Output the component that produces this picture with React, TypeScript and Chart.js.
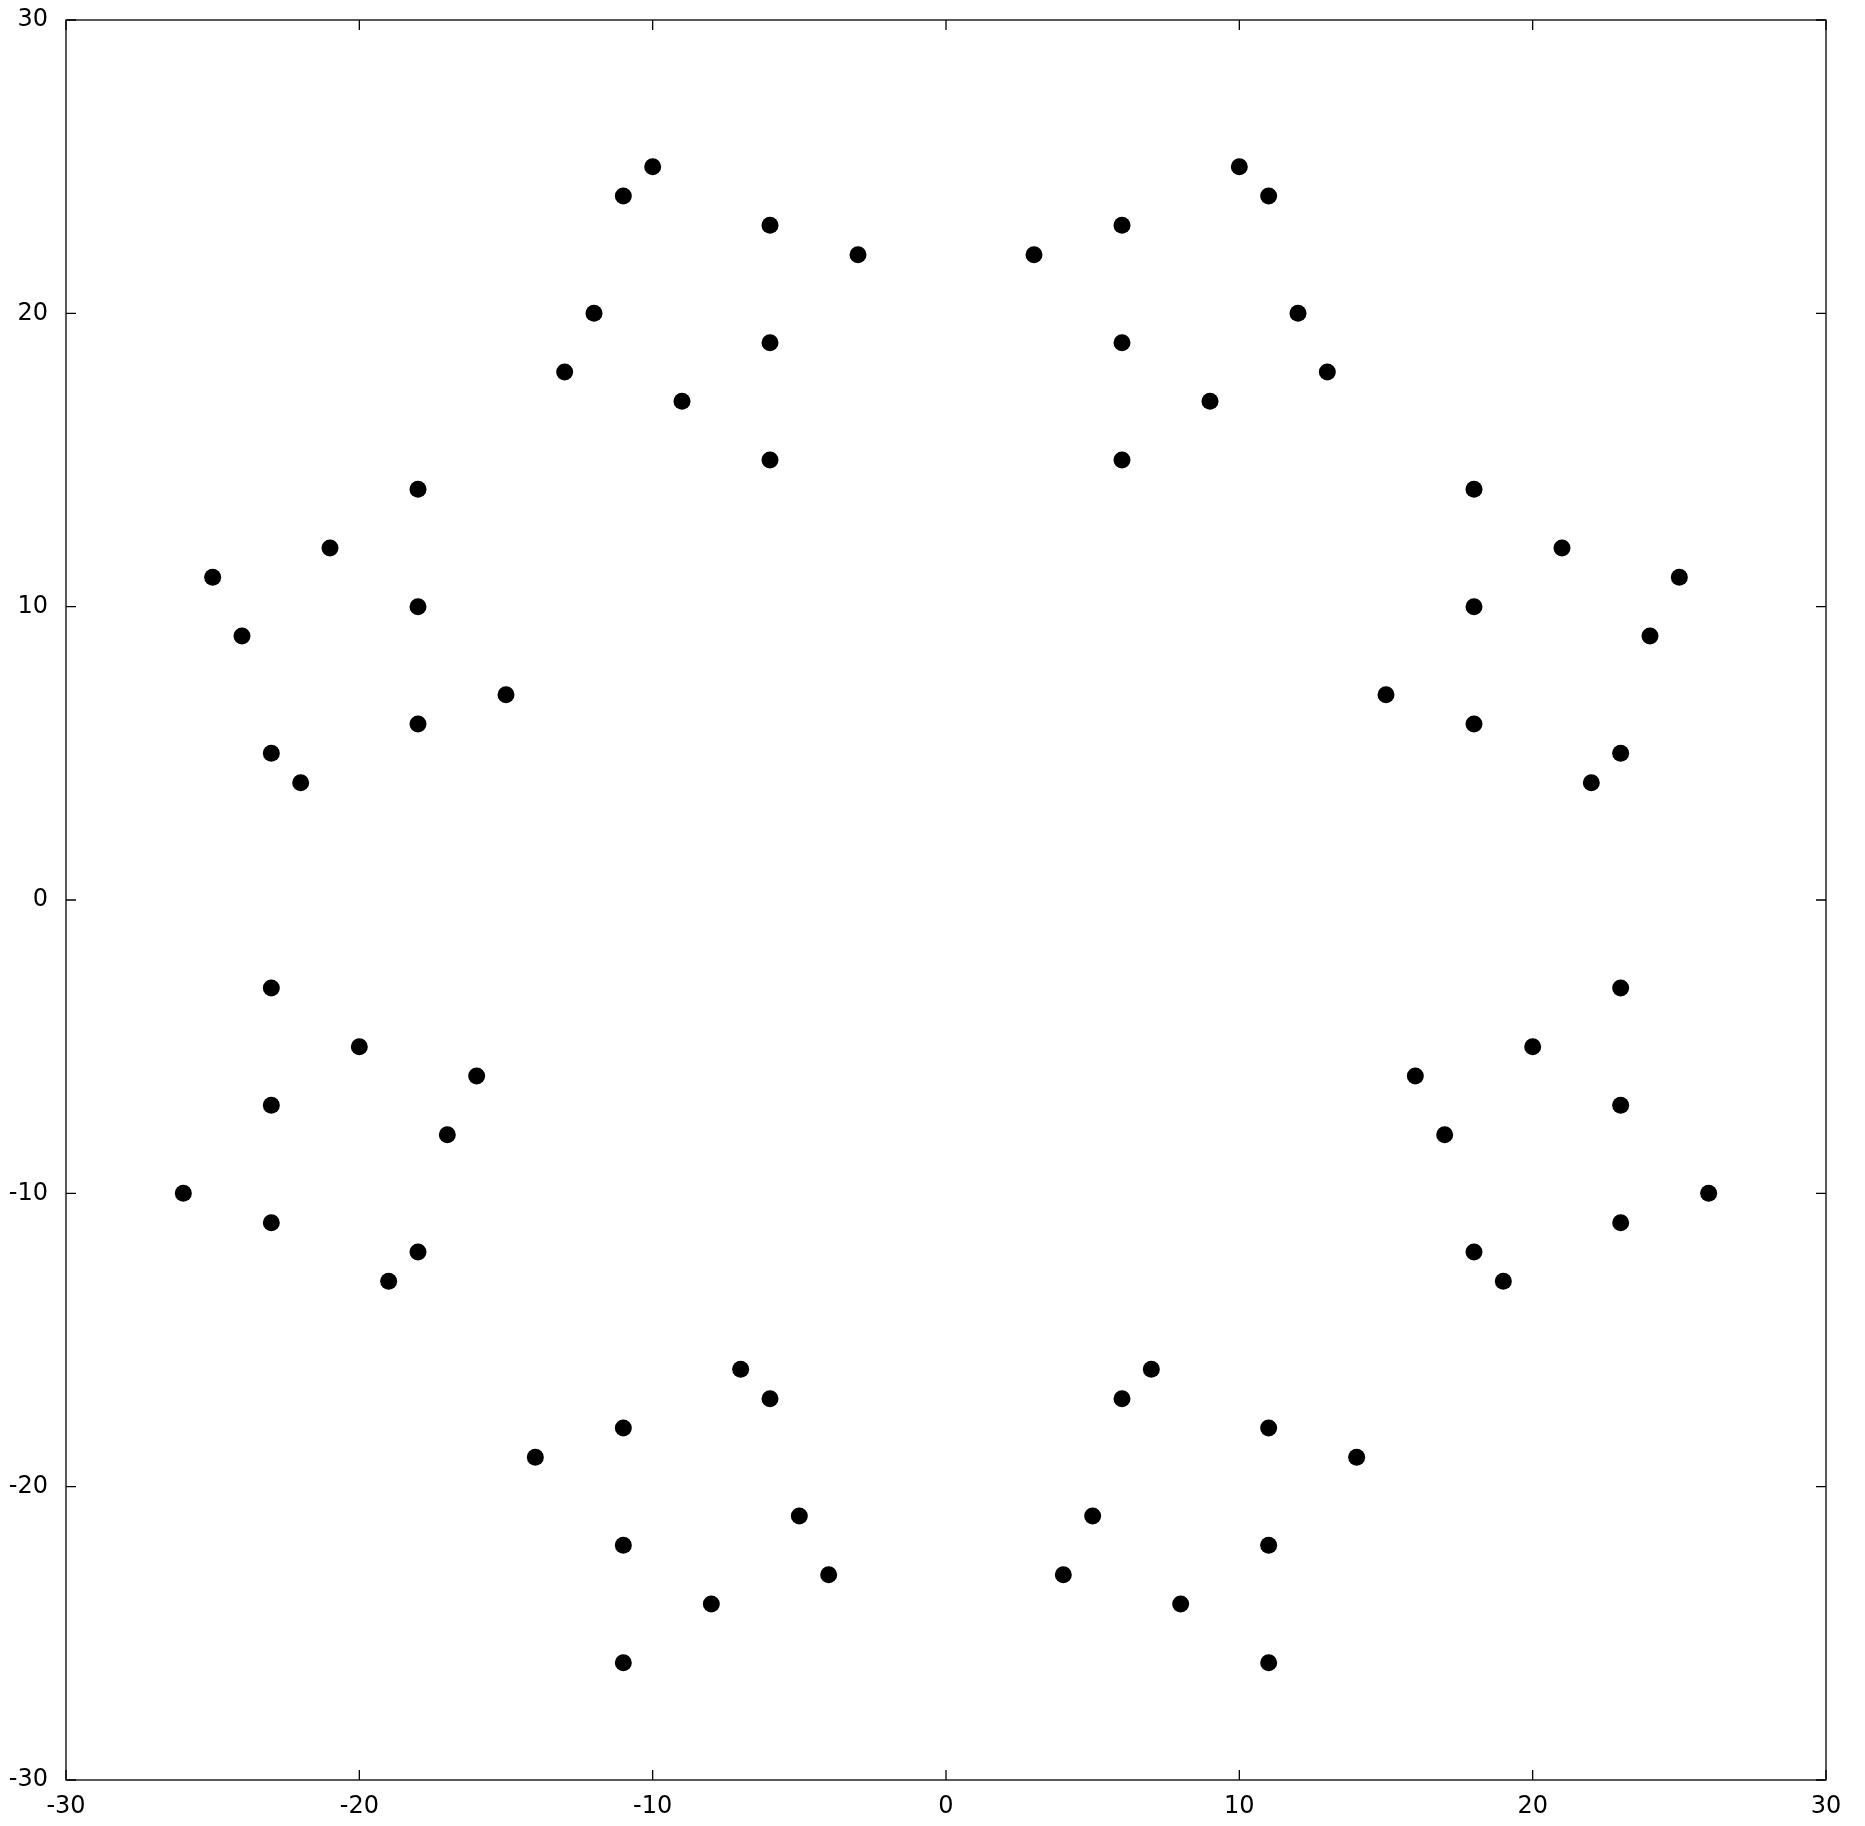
import React, { useEffect, useRef } from "react";
import { Chart, registerables } from "chart.js";

Chart.register(...registerables);

const xValues: number[] = [
  -10, -11, -6, -3, -12, -6, -13, -9, -6,
  3, 6, 10, 11, 12, 6, 13, 9, 6,
  -18, -21, -25, -18, -24, -15, -18, -23, -22,
  18, 21, 25, 18, 24, 15, 18, 23, 22,
  -23, -20, -16, -23, -17, -26, -23, -18, -19,
  23, 20, 16, 23, 17, 26, 23, 18, 19,
  -7, -6, -11, -14, -5, -11, -4, -8, -11,
  7, 6, 11, 14, 5, 11, 4, 8, 11,
];

const yValues: number[] = [
  25, 24, 23, 22, 20, 19, 18, 17, 15,
  22, 23, 25, 24, 20, 19, 18, 17, 15,
  14, 12, 11, 10, 9, 7, 6, 5, 4,
  14, 12, 11, 10, 9, 7, 6, 5, 4,
  -3, -5, -6, -7, -8, -10, -11, -12, -13,
  -3, -5, -6, -7, -8, -10, -11, -12, -13,
  -16, -17, -18, -19, -21, -22, -23, -24, -26,
  -16, -17, -18, -19, -21, -22, -23, -24, -26,
];

const axisMin = -30;
const axisMax = 30;
const tickStep = 10;

const framePlugin = {
  id: "frameTicks",
  afterDraw(chart: any) {
    const { ctx, chartArea, scales } = chart;
    const { left, right, top, bottom } = chartArea;
    ctx.save();
    ctx.strokeStyle = "#000";
    ctx.lineWidth = 1.3;
    ctx.strokeRect(left, top, right - left, bottom - top);
    const len = 10;
    ctx.beginPath();
    scales.x.ticks.forEach((t: any) => {
      const px = scales.x.getPixelForValue(t.value);
      ctx.moveTo(px, bottom);
      ctx.lineTo(px, bottom - len);
      ctx.moveTo(px, top);
      ctx.lineTo(px, top + len);
    });
    scales.y.ticks.forEach((t: any) => {
      const py = scales.y.getPixelForValue(t.value);
      ctx.moveTo(left, py);
      ctx.lineTo(left + len, py);
      ctx.moveTo(right, py);
      ctx.lineTo(right - len, py);
    });
    ctx.stroke();
    ctx.restore();
  },
};

export default function App() {
  const ref = useRef<HTMLCanvasElement | null>(null);
  useEffect(() => {
    if (!ref.current) return;
    const points = xValues.map((x, i) => ({ x, y: yValues[i] }));
    const font = { family: "'DejaVu Sans', sans-serif", size: 24 };
    const chart = new Chart(ref.current, {
      type: "scatter",
      data: {
        datasets: [
          {
            data: points,
            backgroundColor: "#000",
            borderWidth: 0,
            pointRadius: 8.5,
            pointHoverRadius: 8.5,
          },
        ],
      },
      options: {
        animation: false,
        responsive: false,
        devicePixelRatio: 1,
        layout: { padding: { top: 20, right: 39, left: 0, bottom: 0 } },
        plugins: { legend: { display: false }, tooltip: { enabled: false } },
        scales: {
          x: {
            type: "linear",
            min: axisMin,
            max: axisMax,
            grid: { display: false, drawTicks: false },
            border: { display: false },
            ticks: { stepSize: tickStep, color: "#000", font, padding: 12, maxRotation: 0 },
            afterFit: (s: any) => {
              s.height = 46;
              s.paddingLeft = 0;
              s.paddingRight = 0;
            },
          },
          y: {
            type: "linear",
            min: axisMin,
            max: axisMax,
            grid: { display: false, drawTicks: false },
            border: { display: false },
            ticks: { stepSize: tickStep, color: "#000", font, padding: 18 },
            afterFit: (s: any) => {
              s.width = 66;
              s.paddingTop = 0;
              s.paddingBottom = 0;
            },
          },
        },
      },
      plugins: [framePlugin],
    });
    return () => chart.destroy();
  }, []);
  return (
    <canvas
      ref={ref}
      width={1865}
      height={1826}
      style={{ position: "absolute", left: 0, top: 0, width: 1865, height: 1826, background: "#fff" }}
    />
  );
}
